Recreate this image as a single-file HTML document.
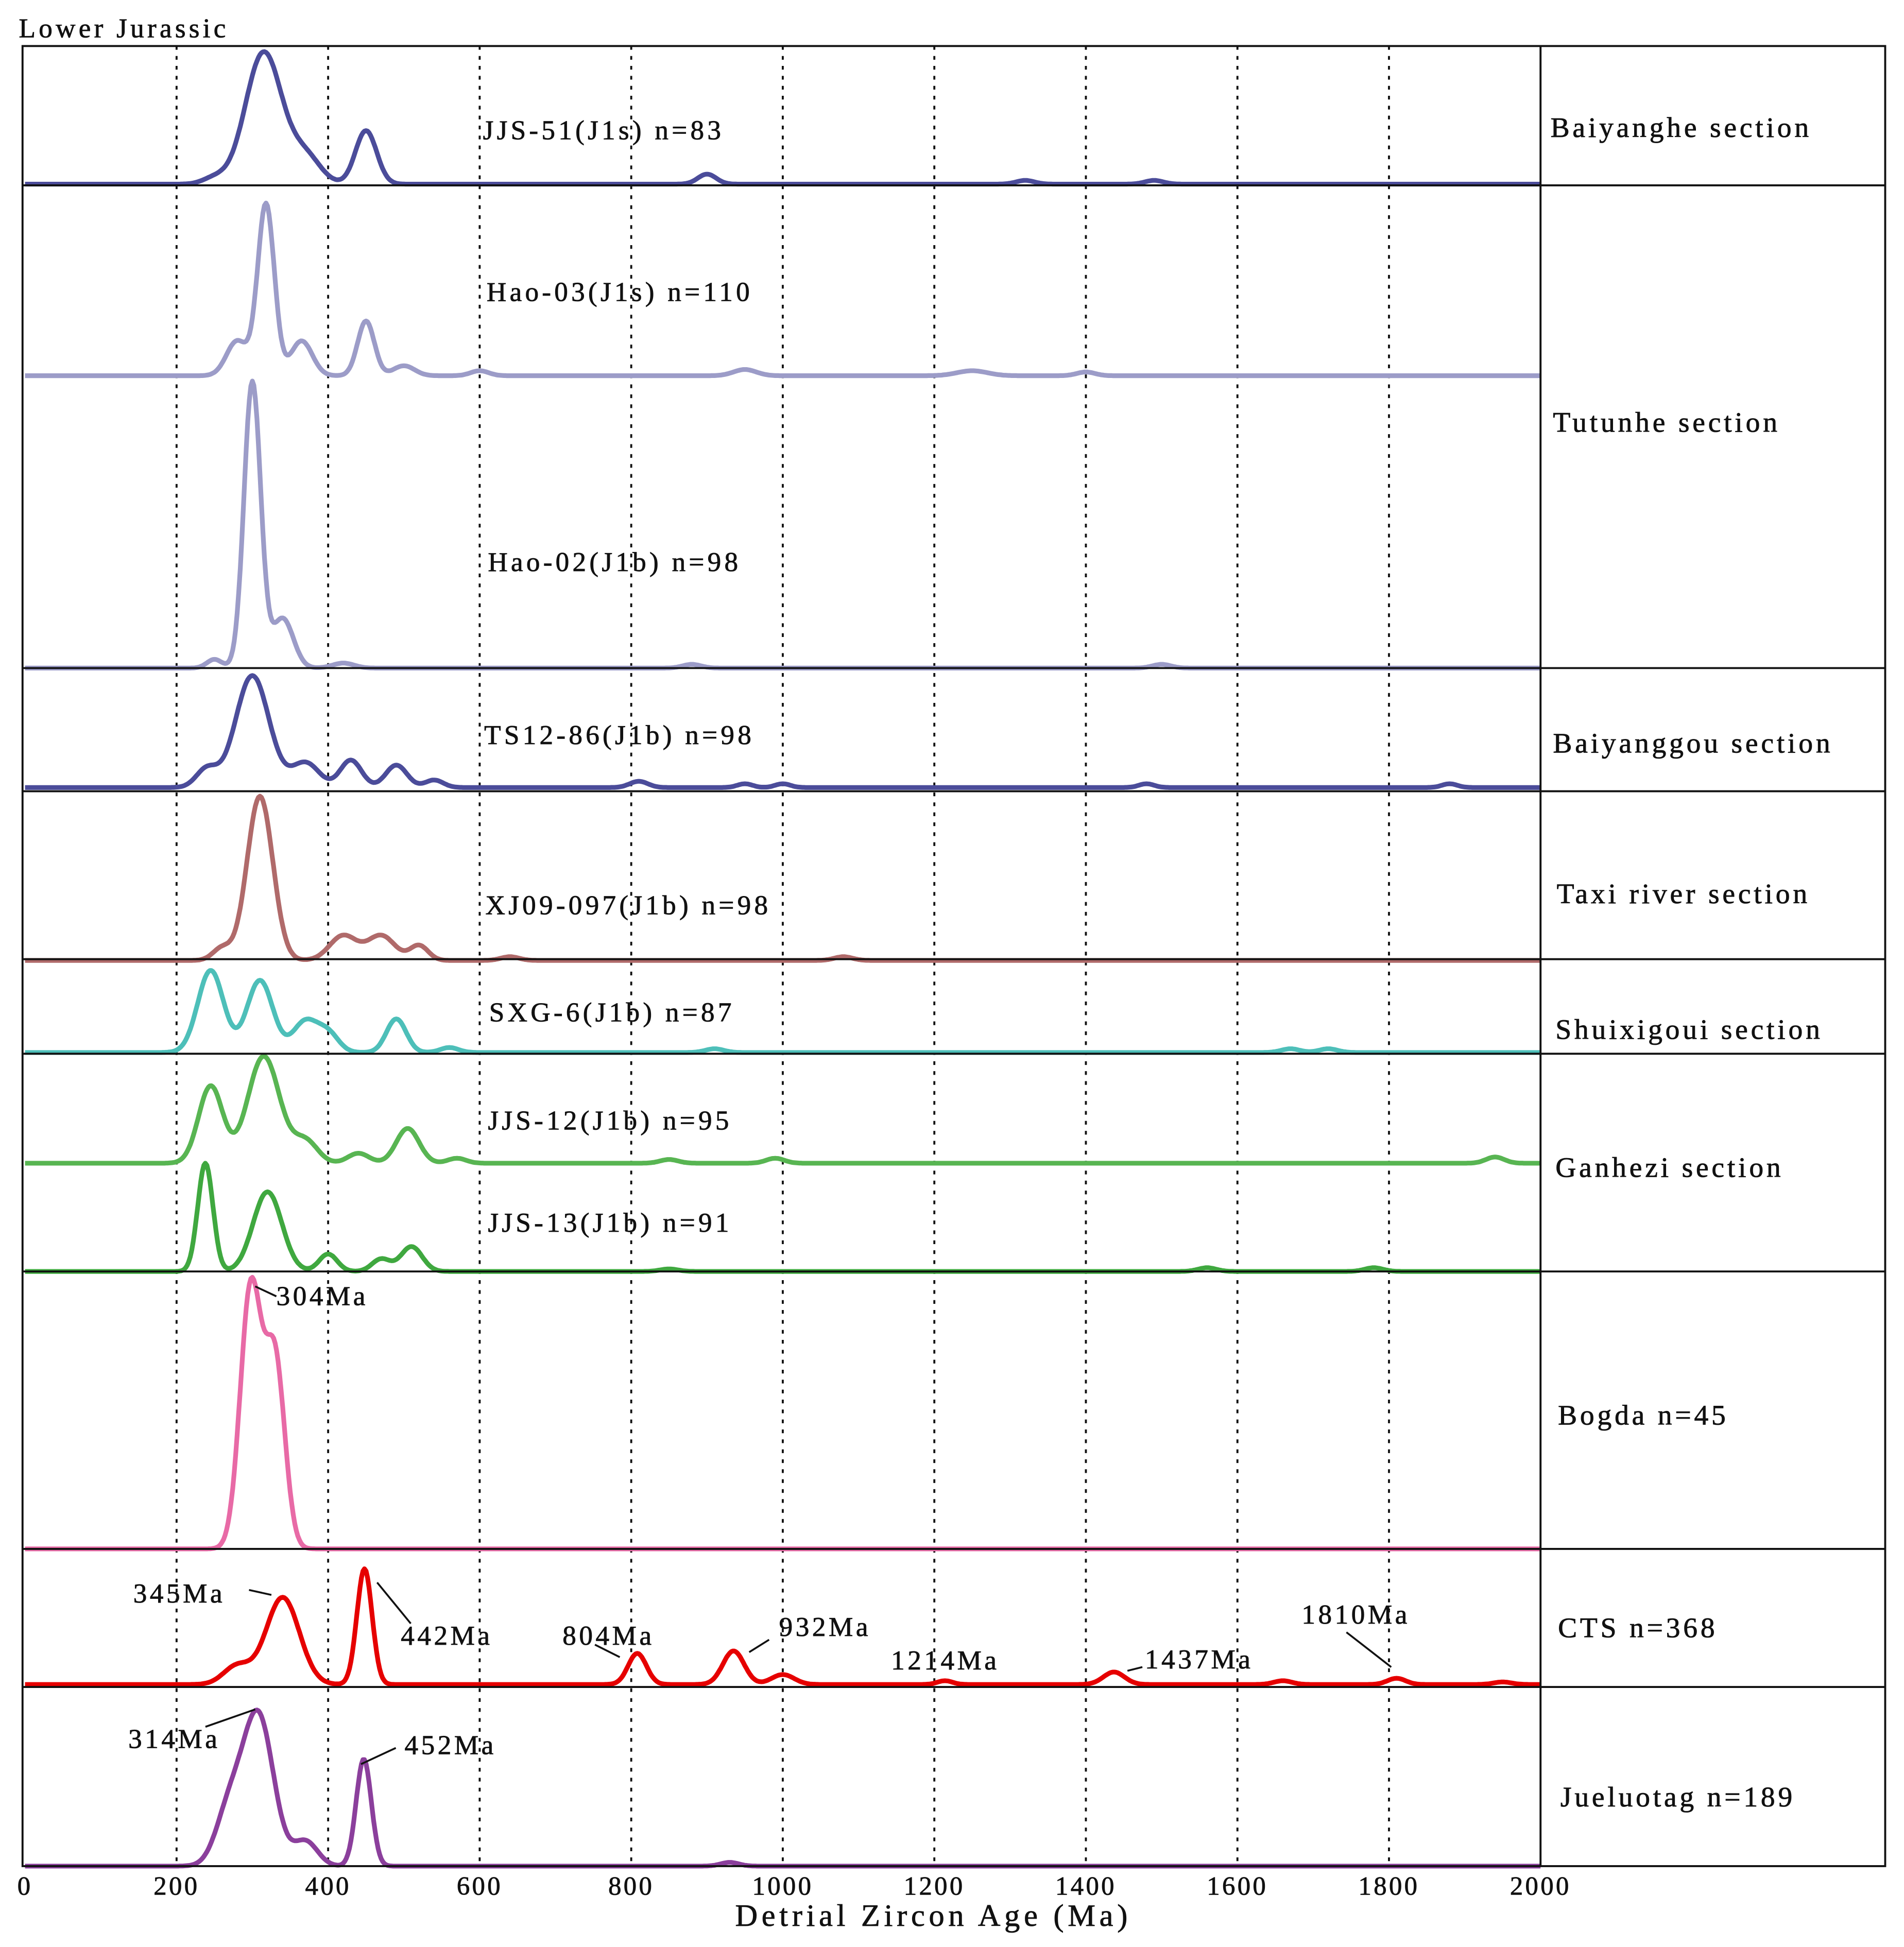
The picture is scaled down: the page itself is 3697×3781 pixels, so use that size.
<!DOCTYPE html>
<html><head><meta charset="utf-8"><style>
html,body{margin:0;padding:0;background:#fff;}
svg{display:block;}
text{font-family:"Liberation Serif",serif;fill:#111;stroke:#111;stroke-width:0.35;}
</style></head><body>
<svg id="chart" width="3697" height="3781" viewBox="0 0 1530 1565" xmlns="http://www.w3.org/2000/svg">
<g id="grid"></g>
<g id="curves"></g>
<g id="frame"></g>
<g id="labels"></g>
</svg>
<script>
const tickValues=[0,200,400,600,800,1000,1200,1400,1600,1800,2000];
const gridAges=[200,400,600,800,1000,1200,1400,1600,1800];
const sampleNames=["JJS-51(J1s) n=83","Hao-03(J1s) n=110","Hao-02(J1b) n=98","TS12-86(J1b) n=98","XJ09-097(J1b) n=98","SXG-6(J1b) n=87","JJS-12(J1b) n=95","JJS-13(J1b) n=91","","",""];
const sampleColors=["#4b4c9a","#9c9cc8","#9c9cc8","#4b4c9a","#b06a6a","#4dbfb9","#58b552","#3fa83f","#e86aa6","#e60000","#8b3f9c"];
const baselines=[148,302,537,633,772,846,935,1022,1245,1354,1500];
// peak components per sample: ages, heights (px), widths (Ma)
const peakAges=[
[250,315,370,450,900,1320,1490],
[280,318,365,450,500,600,950,1250,1400],
[250,300,340,420,880,1500],
[240,300,370,430,490,540,810,950,1000,1480,1880],
[260,310,420,470,520,640,1080],
[245,310,370,400,490,560,910,1670,1720],
[245,315,370,440,505,570,850,990,1940],
[238,320,400,470,510,850,1560,1780],
[298,330],
[280,340,448,808,935,1000,1214,1437,1660,1810,1950],
[270,308,370,447,930]];
const peakHeights=[
[5,106,22,43,8,3,3],
[28,138,28,44,8,4,5,4,3],
[7,230,40,4,3,3],
[15,90,20,22,18,6,5,3,3,3,3],
[10,132,20,20,12,3,3],
[66,58,25,15,27,4,3,3,3],
[62,86,18,8,28,4,3,4,5],
[87,64,14,10,20,2,3,3],
[210,150],
[15,70,93,25,27,8,3,10,3,5,2],
[45,120,20,86,3]];
const peakWidths=[
[15,24,20,14,12,12,12],
[14,11,14,11,14,12,15,20,12],
[10,11,14,14,12,12],
[14,22,18,14,14,12,12,10,10,10,10],
[12,17,18,18,12,12,12],
[17,17,16,14,13,12,12,12,12],
[16,21,16,14,15,12,12,12,12],
[10,19,12,12,14,12,12,12],
[14,13],
[18,22,10,12,14,15,10,14,12,12,12],
[18,20,16,10,12]];
const rightLabels=[["Baiyanghe section",1246,110],["Tutunhe section",1248,347],["Baiyanggou section",1248,605],["Taxi river section",1251,726],["Shuixigoui section",1250,835],["Ganhezi section",1250,946],["Bogda n=45",1252,1145],["CTS n=368",1252,1316],["Jueluotag n=189",1254,1452]];
const sampleLabelPos=[[388,112],[391,242],[392,459],[389,598],[390,735],[393,821],[392,908],[392,990]];
const annotations=[["304Ma",222,1049,205,1034,222,1042],["345Ma",107,1288,200,1278,218,1282],["442Ma",322,1322,303,1272,330,1305],["804Ma",452,1322,478,1322,498,1332],["932Ma",626,1315,602,1328,618,1318],["1214Ma",716,1342,0,0,0,0],["1437Ma",920,1341,906,1343,918,1340],["1810Ma",1046,1305,1082,1312,1118,1340],["314Ma",103,1405,165,1388,205,1374],["452Ma",325,1410,290,1418,318,1405]];
const separators=[149,537,636,771,847,1022,1245,1356];

const NS="http://www.w3.org/2000/svg";
const X0=20,X1=1238;
function xs(a){return X0+(a/2000)*(X1-X0);}
function mk(tag,attrs,parent){const e=document.createElementNS(NS,tag);for(const k in attrs)e.setAttribute(k,attrs[k]);parent.appendChild(e);return e;}
const grid=document.getElementById('grid'),curves=document.getElementById('curves'),frame=document.getElementById('frame'),labels=document.getElementById('labels');

gridAges.forEach(a=>{const l=mk('line',{x1:xs(a),x2:xs(a),y1:37,y2:1500,stroke:'#111','stroke-width':1.6,'stroke-dasharray':'3 5'},grid);

});

baselines.forEach((b,i)=>{let d='';for(let a=0;a<=2000;a+=2){let y=0;peakAges[i].forEach((p,j)=>{const w=peakWidths[i][j];y+=peakHeights[i][j]*Math.exp(-0.5*((a-p)/w)**2);});d+=(a?'L':'M')+xs(a).toFixed(1)+','+(b-y).toFixed(1);}
const p=mk('path',{d:d,fill:'none',stroke:sampleColors[i],'stroke-width':3.8,'stroke-linejoin':'round'},curves);

});

const r=mk('rect',{x:18,y:37,width:1497,height:1463,fill:'none',stroke:'#111','stroke-width':1.6},frame);


const v=mk('line',{x1:1238,x2:1238,y1:37,y2:1500,stroke:'#111','stroke-width':1.6},frame);


separators.forEach(y=>{const l=mk('line',{x1:18,x2:1515,y1:y,y2:y,stroke:'#111','stroke-width':1.6},frame);

});

function txt(s,x,y,size,name,anchor,ls){const t=mk('text',{x:x,y:y,'font-size':size,'letter-spacing':ls||2.5},labels);if(anchor)t.setAttribute('text-anchor',anchor);t.textContent=s;

return t;}
txt("Lower Jurassic",15,30,22,'chart-title',null,2.6);
sampleLabelPos.forEach((p,i)=>txt(sampleNames[i],p[0],p[1],22,'sample-label',null,2.6));
rightLabels.forEach(l=>txt(l[0],l[1],l[2],23,'section-label',null,2.4));
annotations.forEach(a=>{txt(a[0],a[1],a[2],22,'peak-annotation',null,2.3);if(a[3]){const l=mk('line',{x1:a[3],y1:a[4],x2:a[5],y2:a[6],stroke:'#111','stroke-width':1.5},labels);

}});
tickValues.forEach(t=>txt(String(t),t===0?20:xs(t),1523,21,'x-tick-label','middle',1.8));
txt("Detrial Zircon Age (Ma)",750,1548,25,'x-axis-title','middle',3.2);
</script>
</body></html>
